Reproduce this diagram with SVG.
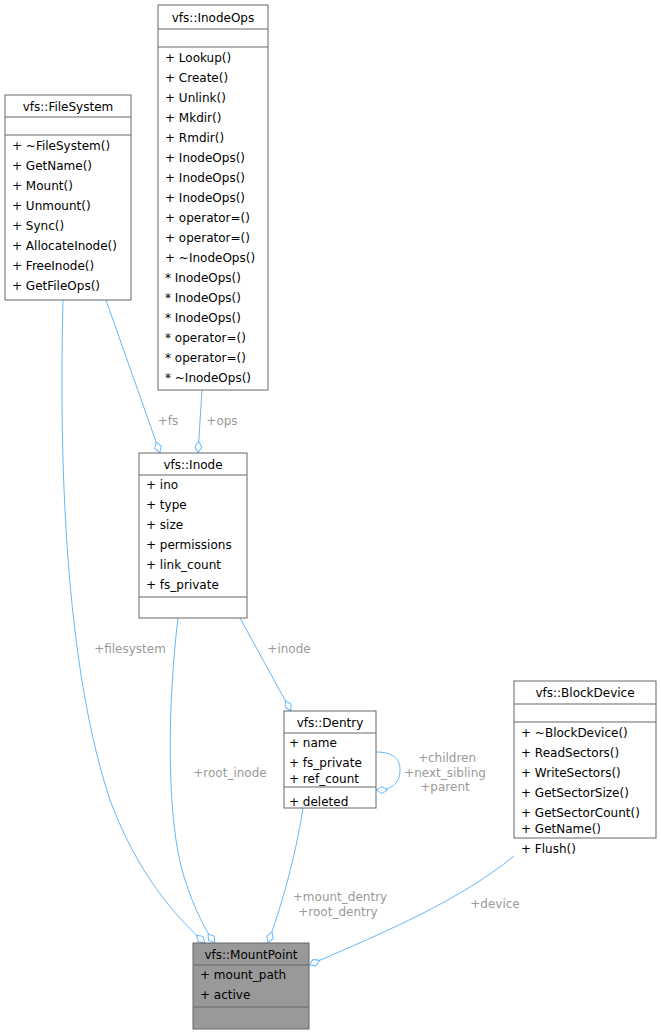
<svg xmlns="http://www.w3.org/2000/svg" width="661" height="1035" viewBox="0 0 661 1035">
<style>
text{font-family:"DejaVu Sans",sans-serif;font-size:12px;fill:#000}
.b{fill:#fff;stroke:#666;stroke-width:1}
.g{fill:#999;stroke:#666;stroke-width:1}
.l{stroke:#666;stroke-width:1}
.e{fill:none;stroke:#63b8ff;stroke-width:1;marker-end:url(#d)}
.lb{fill:#9a9a9a}
.c{text-anchor:middle}
</style>
<defs><marker id="d" viewBox="0 0 12 8" refX="12" refY="4" markerWidth="12" markerHeight="8" markerUnits="userSpaceOnUse" orient="auto"><path d="M0.5,4 L6,0.5 L11.5,4 L6,7.5 Z" fill="#fff" stroke="#63b8ff"/></marker></defs>
<g id="connectors">
<path class="e" d="M106,300 L160,453"/>
<path class="e" d="M202,390 L198,453"/>
<path class="e" d="M240,618 L291,711"/>
<path class="e" d="M376,752 C392,752 400,758 400,770 C400,785 390,790 376,790"/>
<path class="e" d="M63,300 C60,420 60,650 110,800 C140,880 180,920 205,943"/>
<path class="e" d="M178,618 C168,700 165,820 185,880 C195,910 205,930 215,943"/>
<path class="e" d="M303,808 C295,860 280,910 268,943"/>
<path class="e" d="M514,856 C460,900 390,930 309,965"/>
<text class="lb" x="168" y="425" text-anchor="middle">+fs</text>
<text class="lb" x="222" y="425" text-anchor="middle">+ops</text>
<text class="lb" x="289" y="653" text-anchor="middle">+inode</text>
<text class="lb" x="447" y="762" text-anchor="middle">+children</text>
<text class="lb" x="445" y="777" text-anchor="middle">+next_sibling</text>
<text class="lb" x="445" y="791" text-anchor="middle">+parent</text>
<text class="lb" x="130" y="653" text-anchor="middle">+filesystem</text>
<text class="lb" x="230" y="777" text-anchor="middle">+root_inode</text>
<text class="lb" x="340" y="901" text-anchor="middle">+mount_dentry</text>
<text class="lb" x="338" y="916" text-anchor="middle">+root_dentry</text>
<text class="lb" x="495" y="908" text-anchor="middle">+device</text>
</g>
<g id="InodeOps">
<rect class="b" x="158" y="5" width="110" height="385"/>
<line class="l" x1="158" y1="29" x2="268" y2="29"/><line class="l" x1="158" y1="47" x2="268" y2="47"/>
<text class="c" x="213" y="22">vfs::InodeOps</text>
<text x="165" y="62">+  Lookup()</text><text x="165" y="82">+  Create()</text><text x="165" y="102">+  Unlink()</text><text x="165" y="122">+  Mkdir()</text><text x="165" y="142">+  Rmdir()</text><text x="165" y="162">+  InodeOps()</text><text x="165" y="182">+  InodeOps()</text><text x="165" y="202">+  InodeOps()</text><text x="165" y="222">+  operator=()</text><text x="165" y="242">+  operator=()</text><text x="165" y="262">+  ~InodeOps()</text><text x="165" y="282">*  InodeOps()</text><text x="165" y="302">*  InodeOps()</text><text x="165" y="322">*  InodeOps()</text><text x="165" y="342">*  operator=()</text><text x="165" y="362">*  operator=()</text><text x="165" y="382">*  ~InodeOps()</text>
</g>
<g id="FileSystem">
<rect class="b" x="5" y="95" width="126" height="205"/>
<line class="l" x1="5" y1="117" x2="131" y2="117"/><line class="l" x1="5" y1="135" x2="131" y2="135"/>
<text class="c" x="68" y="111">vfs::FileSystem</text>
<text x="12" y="150">+  ~FileSystem()</text><text x="12" y="170">+  GetName()</text><text x="12" y="190">+  Mount()</text><text x="12" y="210">+  Unmount()</text><text x="12" y="230">+  Sync()</text><text x="12" y="250">+  AllocateInode()</text><text x="12" y="270">+  FreeInode()</text><text x="12" y="290">+  GetFileOps()</text>
</g>
<g id="Inode">
<rect class="b" x="139" y="453" width="108" height="165"/>
<line class="l" x1="139" y1="475" x2="247" y2="475"/><line class="l" x1="139" y1="597" x2="247" y2="597"/>
<text class="c" x="193" y="469">vfs::Inode</text>
<text x="146" y="489">+  ino</text><text x="146" y="509">+  type</text><text x="146" y="529">+  size</text><text x="146" y="549">+  permissions</text><text x="146" y="569">+  link_count</text><text x="146" y="589">+  fs_private</text>
</g>
<g id="Dentry">
<rect class="b" x="284" y="711" width="92" height="97"/>
<line class="l" x1="284" y1="733" x2="376" y2="733"/><line class="l" x1="284" y1="787" x2="376" y2="787"/>
<text class="c" x="330" y="727">vfs::Dentry</text>
<text x="289" y="747">+  name</text><text x="289" y="767">+  fs_private</text><text x="289" y="787" dy="-4">+  ref_count</text><text x="289" y="806">+  deleted</text>
</g>
<g id="BlockDevice">
<rect class="b" x="514" y="681" width="142" height="157"/>
<line class="l" x1="514" y1="704" x2="656" y2="704"/><line class="l" x1="514" y1="722" x2="656" y2="722"/>
<text class="c" x="585" y="697">vfs::BlockDevice</text>
<text x="521" y="737">+  ~BlockDevice()</text><text x="521" y="757">+  ReadSectors()</text><text x="521" y="777">+  WriteSectors()</text><text x="521" y="797">+  GetSectorSize()</text><text x="521" y="817">+  GetSectorCount()</text><text x="521" y="837" dy="-4">+  GetName()</text><text x="521" y="857" dy="-4">+  Flush()</text>
</g>
<g id="MountPoint">
<rect class="g" x="193" y="943" width="116" height="86"/>
<line class="l" x1="193" y1="965" x2="309" y2="965"/><line class="l" x1="193" y1="1007" x2="309" y2="1007"/>
<text class="c" x="251" y="959">vfs::MountPoint</text>
<text x="200" y="979">+  mount_path</text><text x="200" y="999">+  active</text>
</g>
</svg>
